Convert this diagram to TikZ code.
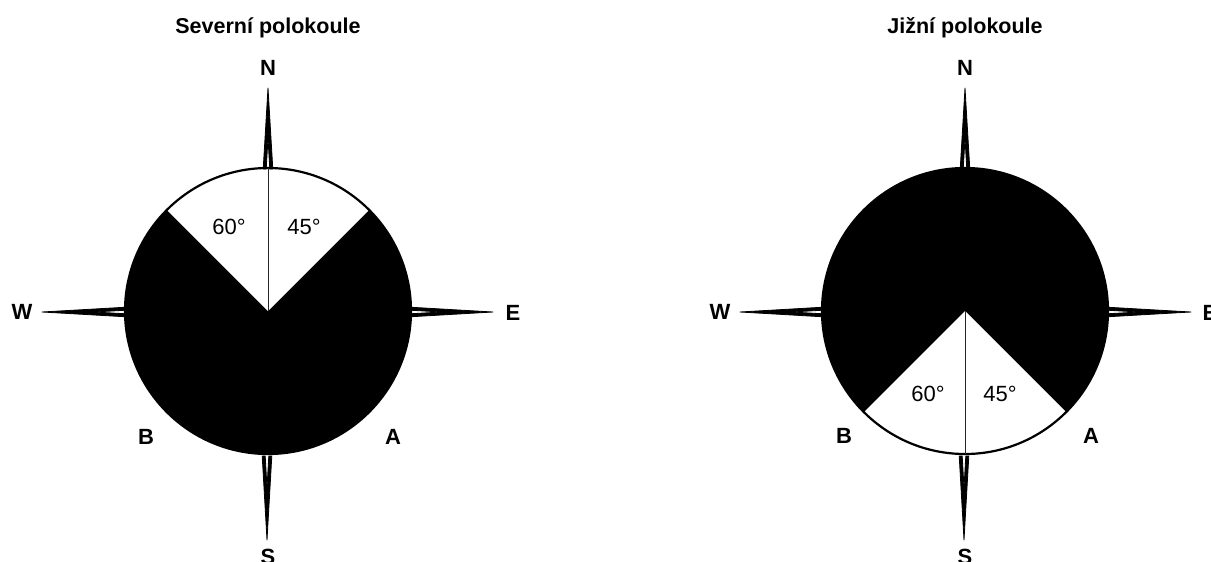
\documentclass[tikz,border=0pt]{standalone}
\usepackage{fontspec}
\setmainfont{Liberation Sans}
\begin{document}
\begin{tikzpicture}[x=1pt,y=-1pt,
  ttl/.style={font=\fontsize{21.5}{22}\selectfont\bfseries},
  dirlbl/.style={font=\fontsize{22}{22}\selectfont\bfseries},
  deg/.style={font=\fontsize{22}{22}\selectfont},
  needle/.style={fill=black, draw=black, line width=0.8pt, line join=round},
  rim/.style={line width=2.2pt},
  midline/.style={line width=1pt, black!85}]
\useasboundingbox (0,0) rectangle (1211,562);
% vertical needle: tip, base y, centre x
\newcommand{\vneedle}[3]{%
  \pgfmathsetmacro{\ty}{#1}\pgfmathsetmacro{\by}{#2}\pgfmathsetmacro{\cx}{#3}%
  \pgfmathsetmacro{\sy}{\ty+0.62*(\by-\ty)}%
  \draw[needle] (\cx,\ty) -- (\cx-4.8,\by) -- (\cx-1.8,\by) -- (\cx,\sy) -- (\cx+1.8,\by) -- (\cx+4.8,\by) -- cycle;}
\newcommand{\hneedle}[3]{%
  \pgfmathsetmacro{\tx}{#1}\pgfmathsetmacro{\bx}{#2}\pgfmathsetmacro{\cy}{#3}%
  \pgfmathsetmacro{\sx}{\tx+0.62*(\bx-\tx)}%
  \draw[needle] (\tx,\cy) -- (\bx,\cy-4.8) -- (\bx,\cy-1.8) -- (\sx,\cy) -- (\bx,\cy+1.8) -- (\bx,\cy+4.8) -- cycle;}
% ---------- left compass ----------
\coordinate (cL) at (268,311);
\fill[black] (cL) circle[radius=143];
\fill[white] (cL) -- ++(-45:143) arc[start angle=-45, end angle=-135, radius=143] -- cycle;
\draw[rim] (cL) circle[radius=143];
\draw[midline] (cL) -- ++(0,-143);
\vneedle{88}{169}{268}
\vneedle{540}{456}{267}
\hneedle{42}{126}{312}
\hneedle{493}{410}{312}
\node[ttl] (tL) at (268,28) {Severní polokoule};
\node[dirlbl] (LN) at (268,68) {N};
\node[dirlbl] (LS) at (268,557) {S};
\node[dirlbl] (LW) at (22,312) {W};
\node[dirlbl] (LE) at (513,313) {E};
\node[dirlbl] (LB) at (146,437) {B};
\node[dirlbl] (LA) at (393,437) {A};
\node[deg] (L60) at (229,227) {60°};
\node[deg] (L45) at (304,227) {45°};
% ---------- right compass ----------
\coordinate (cR) at (965,311);
\fill[black] (cR) circle[radius=143];
\fill[white] (cR) -- ++(45:143) arc[start angle=45, end angle=135, radius=143] -- cycle;
\draw[rim] (cR) circle[radius=143];
\draw[midline] (cR) -- ++(0,143);
\vneedle{88}{169}{965}
\vneedle{540}{456}{964}
\hneedle{740}{823}{312}
\hneedle{1191}{1107}{312}
\node[ttl] (tR) at (965,28) {Jižní polokoule};
\node[dirlbl] (RN) at (965,68) {N};
\node[dirlbl] (RS) at (965,557) {S};
\node[dirlbl] (RW) at (720,312) {W};
\node[dirlbl] (RE) at (1210,313) {E};
\node[dirlbl] (RB) at (844,436) {B};
\node[dirlbl] (RA) at (1091,436) {A};
\node[deg] (R60) at (928,394) {60°};
\node[deg] (R45) at (1000,394) {45°};
\end{tikzpicture}
\end{document}
